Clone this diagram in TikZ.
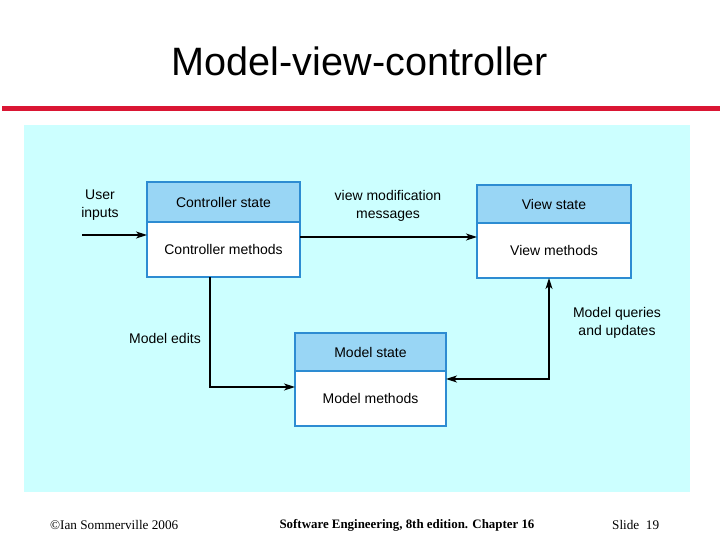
\documentclass[tikz,border=0pt]{standalone}
\usepackage{fontspec}
\setmainfont{Liberation Sans}
\newfontfamily\footfont{Liberation Serif}
\usetikzlibrary{arrows.meta}
\definecolor{redline}{RGB}{218,22,52}
\definecolor{bgcyan}{RGB}{204,255,255}
\definecolor{hdrblue}{RGB}{153,214,245}
\definecolor{bordblue}{RGB}{45,140,210}
\tikzset{
  hdr/.style={draw=bordblue, line width=1.6pt, fill=hdrblue, inner sep=0pt, outer sep=0pt, font=\fontsize{14}{16}\selectfont, anchor=north west},
  bodybox/.style={draw=bordblue, line width=1.6pt, fill=white, inner sep=0pt, outer sep=0pt, font=\fontsize{14}{16}\selectfont, anchor=north},
  lbl/.style={font=\fontsize{14}{17.5}\selectfont, align=center, inner sep=0pt},
  conn/.style={line width=1.3pt, -{Stealth[length=11pt,width=7pt,inset=3pt]}},
  conn2/.style={line width=1.3pt, {Stealth[length=11pt,width=7pt,inset=3pt]}-{Stealth[length=11pt,width=7pt,inset=3pt]}},
  foot/.style={font=\footfont\fontsize{13.2}{15}\selectfont, inner sep=0pt}
}
\begin{document}
\begin{tikzpicture}[x=1pt,y=-1pt]
\useasboundingbox (0,0) rectangle (720,540);
\fill[white] (0,0) rectangle (720,540);
% title
\node[font=\fontsize{39.6}{44}\selectfont, inner sep=0pt] (title) at (360,61) {Model-view-controller};
% red rule
\fill[redline] (2,106) rectangle (720,111);
% background panel
\fill[bgcyan] (24,125) rectangle (690,492);
% controller
\node[hdr, minimum width=153pt, minimum height=40pt] (cs) at (147,182) {Controller state};
\node[bodybox, minimum width=153pt, minimum height=55pt] (cm) at (cs.south) {Controller methods};
% view
\node[hdr, minimum width=154pt, minimum height=38pt] (vs) at (477,185) {View state};
\node[bodybox, minimum width=154pt, minimum height=55pt] (vm) at (vs.south) {View methods};
% model
\node[hdr, minimum width=151pt, minimum height=38pt] (ms) at (295,333) {Model state};
\node[bodybox, minimum width=151pt, minimum height=55pt] (mm) at (ms.south) {Model methods};
% labels
\node[lbl] (ui) at (100,205) {User\\inputs};
\node[lbl] (vmm) at (388,206) {view modification\\messages};
\node[lbl] (me) at (165,338) {Model edits};
\node[lbl] (mq) at (617,323) {Model queries\\and updates};
% connectors
\coordinate (uistart) at (82,235);
\draw[conn] (uistart) -- (uistart -| cm.west);
\coordinate (cvy) at (0,237);
\draw[conn] (cvy -| cm.east) -- (cvy -| vm.west);
\coordinate (mex) at (210,0);
\coordinate (mey) at (0,387);
\draw[conn] (mex |- cm.south) -- (mex |- mey) -- (mey -| mm.west);
\coordinate (mqx) at (549,0);
\coordinate (mqy) at (0,379);
\draw[conn2] (mqy -| mm.east) -- (mqx |- mqy) -- (mqx |- vm.south);
% footer
\node[foot, anchor=west] (f1) at (50,525) {©Ian Sommerville 2006};
\node[foot, font=\footfont\bfseries\fontsize{12.9}{15}\selectfont] (f2) at (407,525) {Software Engineering, 8th edition. Chapter 16};
\node[foot, anchor=west] (f3) at (612,525) {Slide\ \ 19};
\end{tikzpicture}
\end{document}
